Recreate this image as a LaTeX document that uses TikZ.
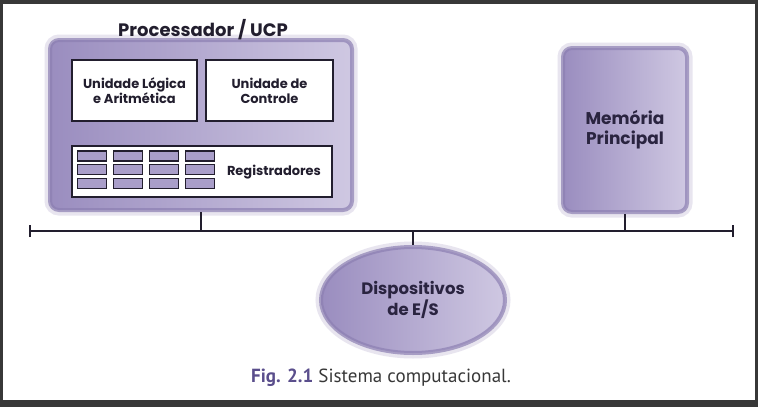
\documentclass[tikz,border=0pt]{standalone}
\usepackage{fontspec}
\usetikzlibrary{shapes.geometric}
\newfontfamily\boxfont{Poppins}
\newfontfamily\capfont{PT Sans}
\definecolor{lilas}{HTML}{9A8DBF}
\definecolor{lilasclaro}{HTML}{CFC8E2}
\definecolor{lilasborda}{HTML}{8C7FB2}
\definecolor{tinta}{HTML}{221E2E}
\definecolor{tintaroxa}{HTML}{2A2440}
\definecolor{figroxo}{HTML}{5A4E8C}
\definecolor{moldura}{HTML}{383838}

\begin{document}
\begin{tikzpicture}[x=1pt,y=-1pt,
		bloco/.style={
			rounded corners=9pt,
			left color=lilas, right color=lilasclaro,
			draw=lilasborda, draw opacity=.7, line width=4pt,
			preaction={draw=lilasborda, draw opacity=.2, line width=11pt},
			inner sep=0pt,
		},
		caixa/.style={draw=tinta, fill=white, line width=1.3pt, inner sep=0pt},
		rotulo/.style={text=tinta, align=center, font=\boxfont\bfseries\fontsize{13}{15}\selectfont},
		grande/.style={rotulo, text=tintaroxa, font=\boxfont\bfseries\fontsize{17}{20}\selectfont},
		reg/.style={draw=tinta, fill=lilas!85, line width=1.1pt,
			minimum width=29pt, minimum height=10pt, inner sep=0pt},
		barra/.style={line width=2.2pt, tinta},
	]
	\useasboundingbox (0,0) rectangle (758,407);
	\fill[moldura] (0,0) rectangle (758,407);
	\fill[white] (3,4) rectangle (755,400);

	% processador
	\node[bloco, minimum width=302pt, minimum height=170pt] (ucp) at (201,125) {};
	\node[rotulo, font=\boxfont\bfseries\fontsize{18}{20}\selectfont] (tituloucp) at (203,30) {Processador / UCP};
	\node[caixa, minimum width=125pt, minimum height=61pt] (ula) at (134.5,90.5) {};
	\node[rotulo] at (ula) {Unidade Lógica\\e Aritmética};
	\node[caixa, minimum width=127pt, minimum height=61pt] (uc) at (269.5,90.5) {};
	\node[rotulo] at (uc) {Unidade de\\Controle};
	\node[caixa, minimum width=260pt, minimum height=51pt] (regs) at (202,171.5) {};
	\node[rotulo] (regtxt) at (274,172) {Registradores};
	\foreach \c in {0,...,3}
		\foreach \r in {0,...,2}
			\node[reg] (r\c\r) at (92+36*\c, 156+13.7*\r) {};

	% memoria
	\node[bloco, minimum width=124pt, minimum height=164pt] (mem) at (625,130) {};
	\node[grande] at (mem) {Memória\\Principal};

	% E/S
	\node[bloco, ellipse, minimum width=184pt, minimum height=106pt] (es) at (413,300) {};
	\node[grande, font=\boxfont\bfseries\fontsize{16.5}{20}\selectfont] at (es) {Dispositivos\\de E/S};

	% barramento
	\coordinate (busL) at (30,231);
	\coordinate (busR) at (733,231);
	\draw[barra] (busL) -- (busR);
	\draw[barra] ([yshift=-6pt]busL) -- ([yshift=6pt]busL);
	\draw[barra] ([yshift=-6pt]busR) -- ([yshift=6pt]busR);
	\draw[barra] (ucp.south) -- (ucp.south |- busL);
	\draw[barra] (mem.south) -- (mem.south |- busL);
	\draw[barra] (es.north |- busL) -- (es.north);

	\node[font=\capfont\fontsize{19}{22}\selectfont, text=moldura] (legenda) at (381,378)
		{{\bfseries\color{figroxo}Fig. 2.1} Sistema computacional.};
\end{tikzpicture}
\end{document}
